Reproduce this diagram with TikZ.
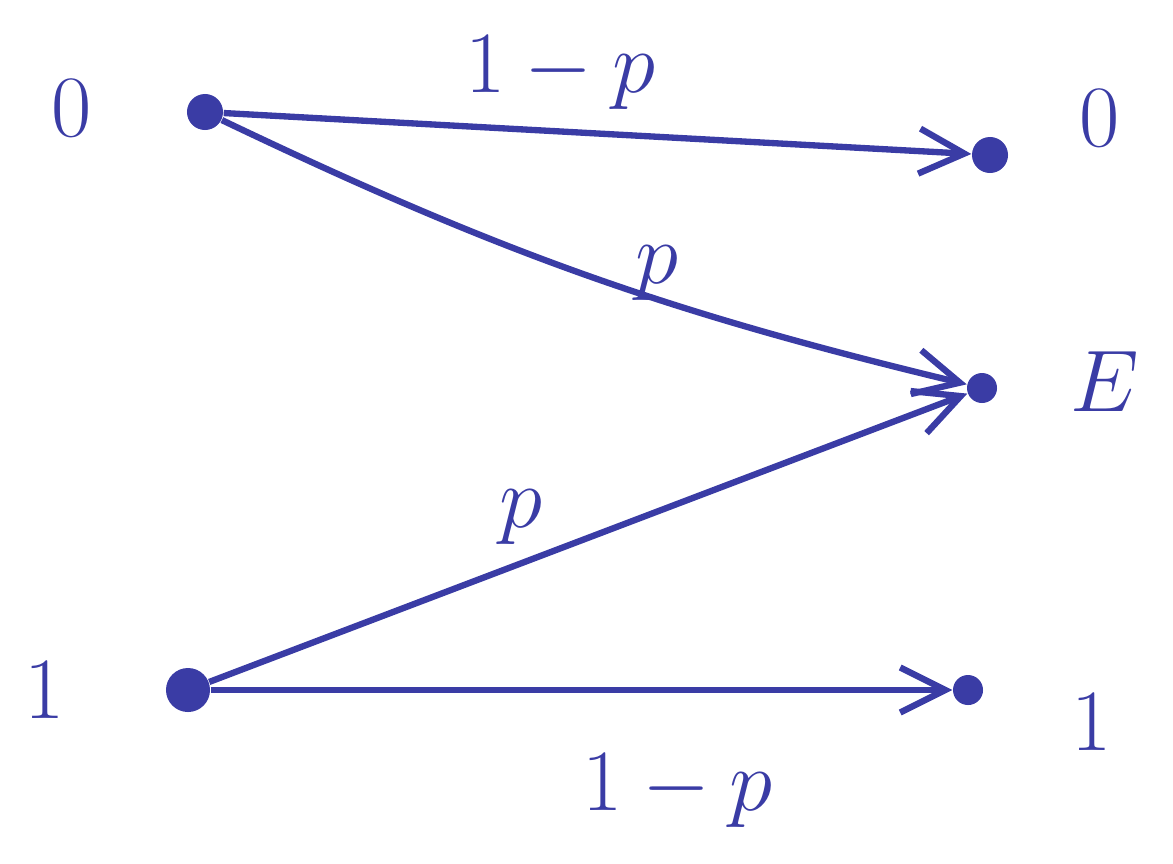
\documentclass[tikz,border=0pt]{standalone}
\usetikzlibrary{arrows.meta}
\definecolor{ink}{RGB}{58,60,165}
\begin{document}
\begin{tikzpicture}[x=0.01cm,y=-0.01cm,
  dot/.style={circle,fill=ink,inner sep=0pt,minimum size=0.36cm},
  lab/.style={text=ink,font=\fontsize{34}{40}\selectfont},
  edge/.style={draw=ink,line width=1.8pt,-{Straight Barb[length=0.45cm,width=0.45cm,line width=1.8pt]}}]
\useasboundingbox (0,0) rectangle (1173,863);
\node[dot] (a0) at (205,112) {};
\node[dot] (b0) at (990,155) {};
\node[dot,minimum size=0.3cm] (e) at (982,388) {};
\node[dot,minimum size=0.44cm] (a1) at (188,690) {};
\node[dot,minimum size=0.3cm] (b1) at (968,690) {};
\node[lab] (la0) at (72,108) {$0$};
\node[lab] (lb0) at (1100,118) {$0$};
\node[lab] (le) at (1105,382) {$E$};
\node[lab] (la1) at (45,690) {$1$};
\node[lab] (lb1) at (1092,722) {$1$};
\draw[edge] (a0) -- (b0) node[lab,pos=0.45,above=2pt] (p1) {$1-p$};
\draw[edge] (a0) to[bend right=6] node[lab,pos=0.58,above right=-6pt] (p2) {$p$} (e);
\draw[edge] (a1) -- (e) node[lab,pos=0.45,above left=-2pt] (p3) {$p$};
\draw[edge] (a1) -- (b1) node[lab,pos=0.63,below=14pt] (p4) {$1-p$};
\end{tikzpicture}
\end{document}
